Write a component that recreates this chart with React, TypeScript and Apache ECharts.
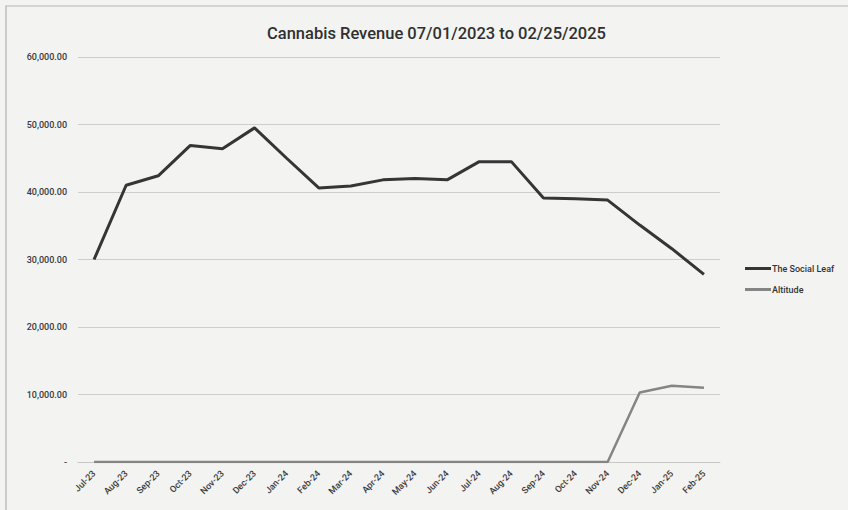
import React, { useEffect, useRef } from "react";
import * as echarts from "echarts";

const months = [
  "Jul-23", "Aug-23", "Sep-23", "Oct-23", "Nov-23", "Dec-23", "Jan-24", "Feb-24",
  "Mar-24", "Apr-24", "May-24", "Jun-24", "Jul-24", "Aug-24", "Sep-24", "Oct-24",
  "Nov-24", "Dec-24", "Jan-25", "Feb-25",
];
const socialLeaf = [
  30000, 41000, 42400, 46900, 46400, 49500, 45000, 40600,
  40900, 41800, 42000, 41800, 44500, 44500, 39100, 39000,
  38800, 35100, 31600, 27800,
];
const altitude = [
  0, 0, 0, 0, 0, 0, 0, 0,
  0, 0, 0, 0, 0, 0, 0, 0,
  0, 10300, 11300, 11000,
];
const titleText = "Cannabis Revenue 07/01/2023 to 02/25/2025";

export default function App() {
  const ref = useRef<HTMLDivElement>(null);
  useEffect(() => {
    if (!ref.current) return;
    const chart = echarts.init(ref.current, null, { renderer: "svg" });
    chart.setOption({
      animation: false,
      backgroundColor: "#f3f3f1",
      title: {
        text: titleText,
        left: 262,
        top: 20,
        textStyle: { fontFamily: "Roboto", fontSize: 16.5, fontWeight: 500, color: "#303030" },
      },
      graphic: [
        {
          type: "rect",
          shape: { x: 6, y: 6, width: 860, height: 520 },
          style: { fill: "none", stroke: "#b5b5b5", lineWidth: 1.2 },
          silent: true,
        },
      ],
      legend: {
        orient: "vertical",
        left: 740,
        top: 259,
        itemGap: 12,
        itemWidth: 26,
        itemHeight: 3,
        icon: "rect",
        textStyle: { fontFamily: "Roboto", fontSize: 9, fontWeight: 500, color: "#333", padding: [0, 0, 0, -4] },
        data: ["The Social Leaf", "Altitude"],
      },
      grid: { left: 78, right: 128, top: 57, bottom: 48, containLabel: false },
      xAxis: {
        type: "category",
        data: months,
        boundaryGap: true,
        axisLine: { lineStyle: { color: "#c8c8c8", width: 1 } },
        axisTick: { show: false },
        axisLabel: {
          rotate: 45,
          interval: 0,
          fontFamily: "Roboto",
          fontSize: 9,
          fontWeight: 500,
          color: "#3a3a3a",
          margin: 10,
        },
      },
      yAxis: {
        type: "value",
        min: 0,
        max: 60000,
        interval: 10000,
        axisLine: { show: false },
        axisTick: { show: false },
        splitLine: { lineStyle: { color: "#cdcdcd", width: 1 } },
        axisLabel: {
          fontFamily: "Roboto",
          fontSize: 9,
          fontWeight: 500,
          color: "#3a3a3a",
          margin: 11,
          formatter: (v: number) =>
            v === 0
              ? "-"
              : v.toLocaleString("en-US", { minimumFractionDigits: 2, maximumFractionDigits: 2 }),
        },
      },
      series: [
        {
          name: "The Social Leaf",
          type: "line",
          data: socialLeaf,
          showSymbol: false,
          symbol: "none",
          lineStyle: { color: "#353535", width: 3 },
          itemStyle: { color: "#353535" },
          z: 3,
        },
        {
          name: "Altitude",
          type: "line",
          data: altitude,
          showSymbol: false,
          symbol: "none",
          lineStyle: { color: "#858585", width: 2.5 },
          itemStyle: { color: "#858585" },
          z: 2,
        },
      ],
    });
    return () => chart.dispose();
  }, []);
  return (
    <div
      ref={ref}
      style={{ position: "absolute", left: 0, top: 0, width: 848, height: 510 }}
    />
  );
}
